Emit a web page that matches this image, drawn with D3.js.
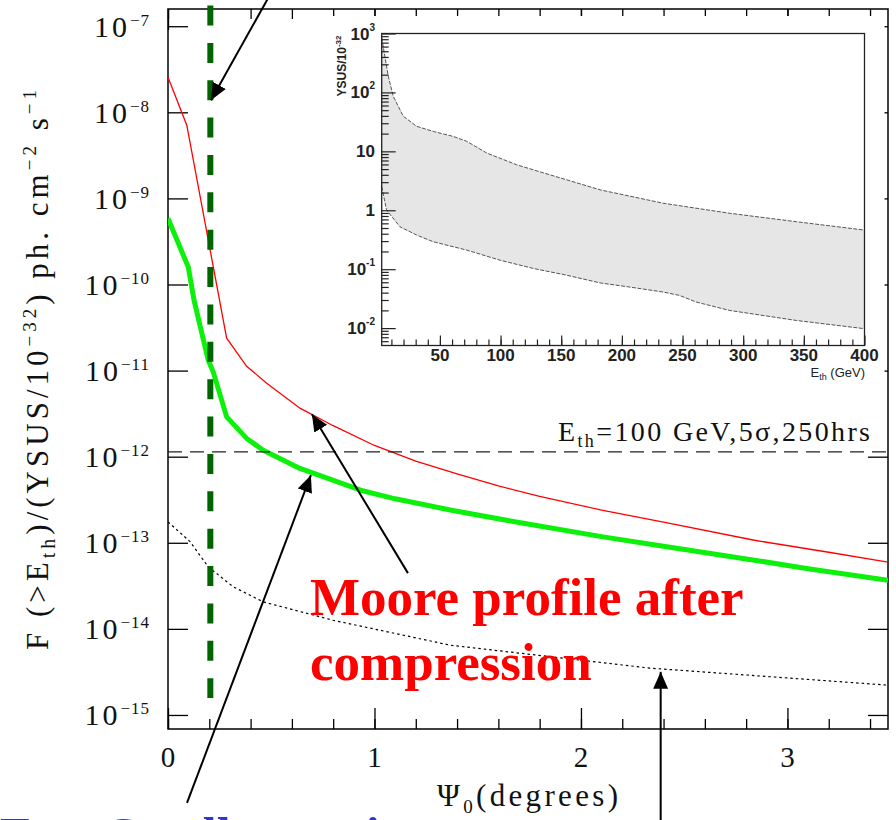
<!DOCTYPE html>
<html>
<head>
<meta charset="utf-8">
<script src="https://cdn.jsdelivr.net/npm/d3@7"></script>
<style>
  html, body { margin: 0; padding: 0; background: #fff; }
  svg { display: block; }
</style>
</head>
<body>
<div id="chart"></div>
<script>
const W = 896
const H = 820
const SERIF = '"Liberation Serif", "DejaVu Serif", serif'
const SANS = '"Liberation Sans", Arial, sans-serif'

// main panel: F(>Eth) vs psi0 (degrees)
const redPsi = [0, 0.091, 0.284, 0.381, 0.478, 0.639, 0.8, 1.0, 1.2, 1.4, 1.6, 1.8, 2.1, 2.4, 2.84, 3.2, 3.487]
const redFlux = [2.56e-8, 7.08e-9, 2.38e-11, 1.12e-11, 7.14e-12, 3.66e-12, 2.29e-12, 1.35e-12, 8.9e-13, 6.3e-13, 4.57e-13, 3.47e-13, 2.4e-13, 1.74e-13, 1.07e-13, 7.76e-14, 5.96e-14]

const greenPsi = [0, 0.098, 0.126, 0.195, 0.219, 0.284, 0.381, 0.461, 0.639, 0.933, 1.1, 1.373, 1.7, 2.107, 2.4, 2.84, 3.1, 3.487]
const greenFlux = [5.85e-10, 1.6e-10, 6.58e-11, 1.32e-11, 9.66e-12, 2.9e-12, 1.63e-12, 1.19e-12, 7.3e-13, 4.08e-13, 3.24e-13, 2.39e-13, 1.72e-13, 1.17e-13, 9.1e-14, 6.28e-14, 5.0e-14, 3.68e-14]

const dotPsi = [0, 0.107, 0.195, 0.316, 0.461, 0.799, 1.366, 2.334, 3.487]
const dotFlux = [1.75e-13, 1.03e-13, 5.25e-14, 3.08e-14, 2.06e-14, 1.26e-14, 6.47e-15, 3.5e-15, 2.22e-15]

const yTickExps = [-7, -8, -9, -10, -11, -12, -13, -14, -15]
const xMajorTicks = [0, 1, 2, 3]
const xMinorTicks = d3.range(0, 3.5, 0.2)

const thresholdFlux = 1.135e-12
const thresholdLabel = ['E', 'th', '=100 GeV,5\u03c3,250hrs']
const cutPsi = 0.205
const cutFluxRange = [1.74e-7, 1.57e-15]

// inset: YSUS/1e-32 band vs Eth (GeV)
const upperEth = [2, 7.4, 11.5, 19.8, 30.8, 44.5, 61, 72.1, 88.6, 113.3, 140.8, 182.1, 233.8, 288.9, 343.7, 400]
const upperYsus = [851, 189, 86, 39.4, 26.6, 21.8, 17.9, 14.8, 9.36, 5.91, 3.99, 2.22, 1.32, 0.889, 0.64, 0.461]
const lowerEth = [2, 6, 17, 30.8, 44.5, 72.1, 99.6, 127, 154.6, 182.1, 206, 234, 247.3, 261.3, 288.5, 316.3, 343.7, 400]
const lowerYsus = [2.52, 1.01, 0.526, 0.38, 0.292, 0.211, 0.142, 0.103, 0.079, 0.0585, 0.0499, 0.041, 0.036, 0.0277, 0.02, 0.0164, 0.0135, 0.00977]
const insetXLabels = [50, 100, 150, 200, 250, 300, 350, 400]
const insetYExps = [3, 2, 1, 0, -1, -2]

// arrows: [tail, tip] in (psi, flux)
const arrows = [
  [[0.52, 3.0e-7], [0.208, 1.38e-8]],
  [[1.162, 4.44e-14], [0.697, 3.12e-12]],
  [[0.092, 9.5e-17], [0.692, 6.1e-13]],
  [[2.386, 5.2e-17], [2.386, 3.17e-15]]
]

const x = d3.scaleLinear().domain([0, 3.487]).range([168, 888])
const y = d3.scaleLog().domain([Math.pow(10, -15.163), Math.pow(10, -6.8)]).range([729, 9])

const ix = d3.scaleLinear().domain([2, 400]).range([381.7, 864.5])
const iy = d3.scaleLog().domain([5.07e-3, 1e3]).range([345.5, 33.5])

const svg = d3.select('#chart').append('svg').attr('width', W).attr('height', H)
svg.append('rect').attr('width', W).attr('height', H).attr('fill', '#fff')

const defs = svg.append('defs')
defs.append('clipPath').attr('id', 'clipMain')
  .append('rect').attr('x', 168).attr('y', 9).attr('width', 720).attr('height', 720)
defs.append('marker')
  .attr('id', 'head')
  .attr('viewBox', '0 0 17 15')
  .attr('refX', 17).attr('refY', 7.5)
  .attr('markerWidth', 17).attr('markerHeight', 15)
  .attr('markerUnits', 'userSpaceOnUse')
  .attr('orient', 'auto')
  .append('path').attr('d', 'M0,0 L17,7.5 L0,15 Z').attr('fill', '#000')

// ---- main axes ----
const styleAxis = (g) => {
  g.select('.domain').remove()
  g.selectAll('.tick line').attr('stroke', '#000').attr('stroke-width', 1.3)
}

svg.append('g').attr('transform', 'translate(0,729)')
  .call(d3.axisBottom(x).tickValues(xMinorTicks).tickSize(-10).tickFormat(''))
  .call(styleAxis)
svg.append('g').attr('transform', 'translate(0,729)')
  .call(d3.axisBottom(x).tickValues(xMajorTicks).tickSize(-21).tickFormat(''))
  .call(styleAxis)
svg.append('g').attr('transform', 'translate(0,9)')
  .call(d3.axisTop(x).tickValues(xMinorTicks).tickSize(-10).tickFormat(''))
  .call(styleAxis)
svg.append('g').attr('transform', 'translate(0,9)')
  .call(d3.axisTop(x).tickValues(xMajorTicks).tickSize(-21).tickFormat(''))
  .call(styleAxis)

const yTickVals = yTickExps.map((e) => Math.pow(10, e))
svg.append('g').attr('transform', 'translate(168,0)')
  .call(d3.axisLeft(y).tickValues(yTickVals).tickSize(-20).tickFormat(''))
  .call(styleAxis)
svg.append('g').attr('transform', 'translate(888,0)')
  .call(d3.axisRight(y).tickValues(yTickVals).tickSize(-20).tickFormat(''))
  .call(styleAxis)

svg.append('rect')
  .attr('x', 168).attr('y', 9).attr('width', 720).attr('height', 720)
  .attr('fill', 'none').attr('stroke', '#000').attr('stroke-width', 1.5)

// y tick labels 10^n
yTickExps.forEach((e) => {
  const t = svg.append('text')
    .attr('x', 150).attr('y', y(Math.pow(10, e)) + 10.5)
    .attr('text-anchor', 'end')
    .attr('font-family', SERIF).attr('font-size', 30)
    .attr('fill', '#111')
  t.append('tspan').attr('letter-spacing', 3).text('10')
  t.append('tspan').attr('font-size', 17).attr('dy', -11).attr('letter-spacing', 1).text('\u2212' + Math.abs(e))
})

// x tick labels
xMajorTicks.forEach((v) => {
  svg.append('text')
    .attr('x', x(v)).attr('y', 767)
    .attr('text-anchor', 'middle')
    .attr('font-family', SERIF).attr('font-size', 29)
    .attr('fill', '#111')
    .text(v)
})

// axis titles
const yTitle = svg.append('text')
  .attr('transform', 'translate(48,370) rotate(-90)')
  .attr('text-anchor', 'middle')
  .attr('font-family', SERIF).attr('font-size', 31)
  .attr('fill', '#111')
  .attr('textLength', 560).attr('lengthAdjust', 'spacing')
yTitle.append('tspan').text('F (>E')
yTitle.append('tspan').attr('font-size', 20).attr('dy', 7).text('th')
yTitle.append('tspan').attr('dy', -7).text(')/(YSUS/10')
yTitle.append('tspan').attr('font-size', 19).attr('dy', -12).text('\u221232')
yTitle.append('tspan').attr('dy', 12).text(') ph. cm')
yTitle.append('tspan').attr('font-size', 19).attr('dy', -12).text('\u22122')
yTitle.append('tspan').attr('dy', 12).text(' s')
yTitle.append('tspan').attr('font-size', 19).attr('dy', -12).text('\u22121')

const xTitle = svg.append('text')
  .attr('x', 437).attr('y', 806)
  .attr('font-family', SERIF).attr('font-size', 31)
  .attr('fill', '#111')
  .attr('textLength', 181).attr('lengthAdjust', 'spacing')
xTitle.append('tspan').text('\u03a8')
xTitle.append('tspan').attr('font-size', 19).attr('dy', 7).text('0')
xTitle.append('tspan').attr('dy', -7).text('(degrees)')

// ---- curves ----
const plot = svg.append('g').attr('clip-path', 'url(#clipMain)')
const line = d3.line().x((d) => x(d[0])).y((d) => y(d[1]))

plot.append('path')
  .attr('d', line(d3.zip(dotPsi, dotFlux)))
  .attr('fill', 'none').attr('stroke', '#000').attr('stroke-width', 1.2)
  .attr('stroke-dasharray', '2.5,3')

plot.append('path')
  .attr('d', line(d3.zip(greenPsi, greenFlux)))
  .attr('fill', 'none').attr('stroke', '#0cf00c').attr('stroke-width', 5)
  .attr('stroke-linejoin', 'round')

plot.append('path')
  .attr('d', line(d3.zip(redPsi, redFlux)))
  .attr('fill', 'none').attr('stroke', '#ff0000').attr('stroke-width', 1.3)

plot.append('line')
  .attr('x1', 168).attr('x2', 888)
  .attr('y1', y(thresholdFlux)).attr('y2', y(thresholdFlux))
  .attr('stroke', '#222').attr('stroke-width', 1.2)
  .attr('stroke-dasharray', '14,8')

svg.append('line')
  .attr('x1', x(cutPsi)).attr('x2', x(cutPsi))
  .attr('y1', y(cutFluxRange[0])).attr('y2', y(cutFluxRange[1]))
  .attr('stroke', '#006400').attr('stroke-width', 6)
  .attr('stroke-dasharray', '20,17.37')

const thr = svg.append('text')
  .attr('x', 558).attr('y', 441)
  .attr('font-family', SERIF).attr('font-size', 28)
  .attr('fill', '#111')
  .attr('textLength', 312).attr('lengthAdjust', 'spacing')
thr.append('tspan').text(thresholdLabel[0])
thr.append('tspan').attr('font-size', 18).attr('dy', 6).text(thresholdLabel[1])
thr.append('tspan').attr('dy', -6).text(thresholdLabel[2])

// ---- inset ----
svg.append('rect')
  .attr('x', 310).attr('y', 16).attr('width', 574.5).attr('height', 372)
  .attr('fill', '#fff')

const inset = svg.append('g')
const bandPts = d3.zip(upperEth, upperYsus).concat(d3.zip(lowerEth, lowerYsus).reverse())
const iline = d3.line().x((d) => ix(d[0])).y((d) => iy(d[1]))

inset.append('path')
  .attr('d', iline(bandPts) + 'Z')
  .attr('fill', '#e6e6e6').attr('stroke', 'none')

;[d3.zip(upperEth, upperYsus), d3.zip(lowerEth, lowerYsus)].forEach((pts) => {
  inset.append('path')
    .attr('d', iline(pts))
    .attr('fill', 'none').attr('stroke', '#555').attr('stroke-width', 1)
    .attr('stroke-dasharray', '4,1.5')
})

const insetMinorY = []
d3.range(-3, 3).forEach((e) => {
  d3.range(2, 10).forEach((k) => {
    const v = k * Math.pow(10, e)
    if (v > 5.07e-3 && v < 1e3) insetMinorY.push(v)
  })
})
const styleInsetAxis = (g) => {
  g.select('.domain').remove()
  g.selectAll('.tick line').attr('stroke', '#222').attr('stroke-width', 1.2)
}
inset.append('g').attr('transform', 'translate(381.7,0)')
  .call(d3.axisLeft(iy).tickValues(insetMinorY).tickSize(-7).tickFormat(''))
  .call(styleInsetAxis)
inset.append('g').attr('transform', 'translate(381.7,0)')
  .call(d3.axisLeft(iy).tickValues(insetYExps.map((e) => Math.pow(10, e))).tickSize(-14).tickFormat(''))
  .call(styleInsetAxis)
inset.append('g').attr('transform', 'translate(0,345.5)')
  .call(d3.axisBottom(ix).tickValues(d3.range(10, 400, 10)).tickSize(-6).tickFormat(''))
  .call(styleInsetAxis)
inset.append('g').attr('transform', 'translate(0,345.5)')
  .call(d3.axisBottom(ix).tickValues(insetXLabels).tickSize(-10).tickFormat(''))
  .call(styleInsetAxis)

inset.append('rect')
  .attr('x', 381.7).attr('y', 33.5).attr('width', 482.8).attr('height', 312)
  .attr('fill', 'none').attr('stroke', '#222').attr('stroke-width', 1.3)

insetXLabels.forEach((v) => {
  inset.append('text')
    .attr('x', ix(v)).attr('y', 361)
    .attr('text-anchor', 'middle')
    .attr('font-family', SANS).attr('font-weight', 'bold').attr('font-size', 17)
    .attr('fill', '#222')
    .text(v)
})

insetYExps.forEach((e) => {
  const t = inset.append('text')
    .attr('x', 375).attr('y', iy(Math.pow(10, e)) + 6)
    .attr('text-anchor', 'end')
    .attr('font-family', SANS).attr('font-weight', 'bold').attr('font-size', 17)
    .attr('fill', '#222')
  if (e === 0) t.text('1')
  else if (e === 1) t.text('10')
  else {
    t.append('tspan').text('10')
    t.append('tspan').attr('font-size', 10).attr('dy', -9).text(e < 0 ? '-' + Math.abs(e) : e)
  }
})

const iyTitle = inset.append('text')
  .attr('transform', 'translate(346,66) rotate(-90)')
  .attr('text-anchor', 'middle')
  .attr('font-family', SANS).attr('font-weight', 'bold').attr('font-size', 12)
  .attr('fill', '#222')
iyTitle.append('tspan').text('YSUS/10')
iyTitle.append('tspan').attr('font-size', 8).attr('dy', -5).text('-32')

const ixTitle = inset.append('text')
  .attr('x', 865).attr('y', 377)
  .attr('text-anchor', 'end')
  .attr('font-family', SANS).attr('font-size', 13)
  .attr('fill', '#222')
ixTitle.append('tspan').text('E')
ixTitle.append('tspan').attr('font-size', 9).attr('dy', 3).text('th')
ixTitle.append('tspan').attr('dy', -3).text(' (GeV)')

// ---- annotations ----
arrows.forEach(([tail, tip]) => {
  svg.append('line')
    .attr('x1', x(tail[0])).attr('y1', y(tail[1]))
    .attr('x2', x(tip[0])).attr('y2', y(tip[1]))
    .attr('stroke', '#000').attr('stroke-width', 2)
    .attr('marker-end', 'url(#head)')
})

const note = svg.append('text')
  .attr('font-family', '"Liberation Serif", "Times New Roman", serif')
  .attr('font-weight', 'bold').attr('font-size', 53)
  .attr('fill', '#ff0000')
note.append('tspan').attr('x', 310).attr('y', 615).text('Moore profile after')
note.append('tspan').attr('x', 310).attr('y', 680).text('compression')

// blue caption below the chart, only the tops of its letters show
svg.append('text')
  .attr('x', 0).attr('y', 852)
  .attr('font-family', '"Liberation Serif", "Times New Roman", serif')
  .attr('font-weight', 'bold').attr('font-size', 50)
  .attr('fill', '#3434d0')
  .attr('xml:space', 'preserve')
  .style('white-space', 'pre')
  .text('Ex.   Small cores in a cusp')
</script>
</body>
</html>
